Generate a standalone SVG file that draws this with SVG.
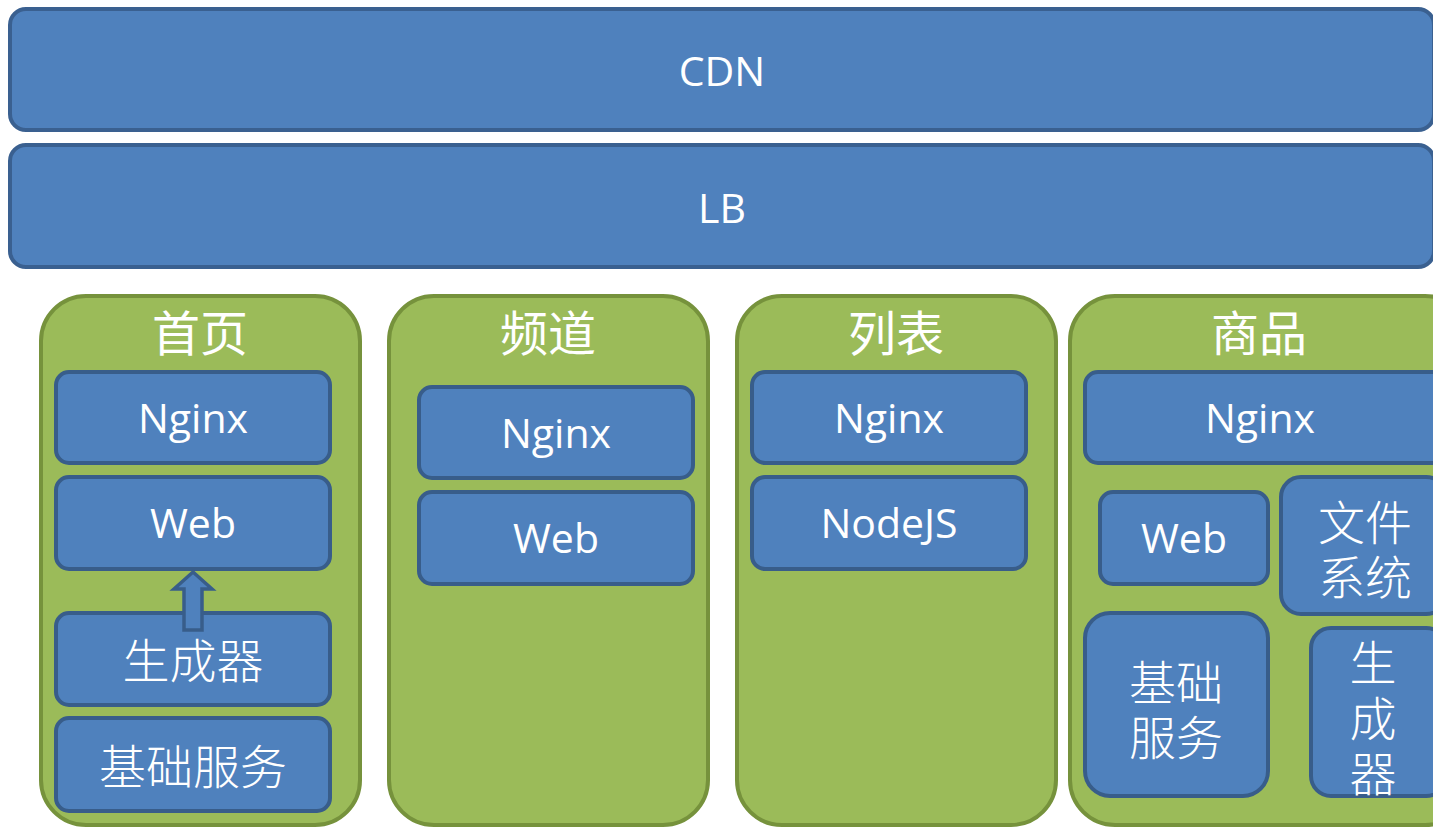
<svg xmlns="http://www.w3.org/2000/svg" width="1433" height="827" viewBox="0 0 1433 827">
<style>
.bar{fill:#4f81bd;stroke:#3a6090;stroke-width:4}
.panel{fill:#9bbb59;stroke:#76923c;stroke-width:4}
.box{fill:#4f81bd;stroke:#385d8a;stroke-width:4}
.t{fill:#fff;font-family:"Open Sans","Liberation Sans",sans-serif;font-size:41px;text-anchor:middle;dominant-baseline:central}
.c{fill:#fff;font-family:"Noto Sans CJK SC",sans-serif;font-size:47px;font-weight:300;text-anchor:middle;dominant-baseline:central}
.h{fill:#fff;font-family:"Noto Sans CJK SC",sans-serif;font-size:48px;text-anchor:middle;dominant-baseline:central}
</style>
<rect width="1433" height="827" fill="#fff"/>
<g id="cdn"><rect class="bar" x="10" y="9" width="1424" height="121" rx="16"/><text class="t" x="722" y="70">CDN</text></g>
<g id="lb"><rect class="bar" x="10" y="145" width="1424" height="122" rx="16"/><text class="t" x="722" y="207">LB</text></g>

<g id="panel-home"><rect class="panel" x="41" y="296" width="319" height="529" rx="45"/><text class="h" x="200" y="330">首页</text></g>
<g id="home-nginx"><rect class="box" x="56" y="372" width="274" height="91" rx="13"/><text class="t" x="193" y="417">Nginx</text></g>
<g id="home-web"><rect class="box" x="56" y="477" width="274" height="92" rx="13"/><text class="t" x="193" y="522">Web</text></g>
<g id="home-gen"><rect class="box" x="56" y="613" width="274" height="92" rx="13"/><text class="c" x="193" y="657">生成器</text></g>
<g id="home-base"><rect class="box" x="56" y="718" width="274" height="93" rx="13"/><text class="c" x="193" y="763">基础服务</text></g>

<g id="panel-channel"><rect class="panel" x="389" y="296" width="319" height="529" rx="45"/><text class="h" x="548" y="330">频道</text></g>
<g id="channel-nginx"><rect class="box" x="419" y="387" width="274" height="91" rx="13"/><text class="t" x="556" y="432">Nginx</text></g>
<g id="channel-web"><rect class="box" x="419" y="492" width="274" height="92" rx="13"/><text class="t" x="556" y="537">Web</text></g>

<g id="panel-list"><rect class="panel" x="737" y="296" width="319" height="529" rx="45"/><text class="h" x="896" y="330">列表</text></g>
<g id="list-nginx"><rect class="box" x="752" y="372" width="274" height="91" rx="13"/><text class="t" x="889" y="417">Nginx</text></g>
<g id="list-node"><rect class="box" x="752" y="477" width="274" height="92" rx="13"/><text class="t" x="889" y="522">NodeJS</text></g>

<g id="panel-item"><rect class="panel" x="1070" y="296" width="400" height="529" rx="45"/><text class="h" x="1259" y="330">商品</text></g>
<g id="item-nginx"><rect class="box" x="1085" y="372" width="360" height="91" rx="13"/><text class="t" x="1260" y="417">Nginx</text></g>
<g id="item-web"><rect class="box" x="1100" y="492" width="168" height="92" rx="13"/><text class="t" x="1184" y="537">Web</text></g>
<g id="item-fs"><rect class="box" x="1281" y="477" width="165" height="137" rx="20"/><text class="c"><tspan x="1365" y="519">文件</tspan><tspan x="1365" y="574">系统</tspan></text></g>
<g id="item-base"><rect class="box" x="1085" y="613" width="183" height="183" rx="25"/><text class="c"><tspan x="1176" y="679">基础</tspan><tspan x="1176" y="734">服务</tspan></text></g>
<g id="item-gen"><rect class="box" x="1311" y="628" width="135" height="168" rx="20"/><text class="c"><tspan x="1373" y="659">生</tspan><tspan x="1373" y="715">成</tspan><tspan x="1373" y="770">器</tspan></text></g>

<g id="connectors">
<polygon points="193,572 212,589 202,589 202,630 184,630 184,589 174,589" fill="#4f81bd" stroke="#385d8a" stroke-width="3.5" stroke-linejoin="miter"/>
</g>
</svg>
